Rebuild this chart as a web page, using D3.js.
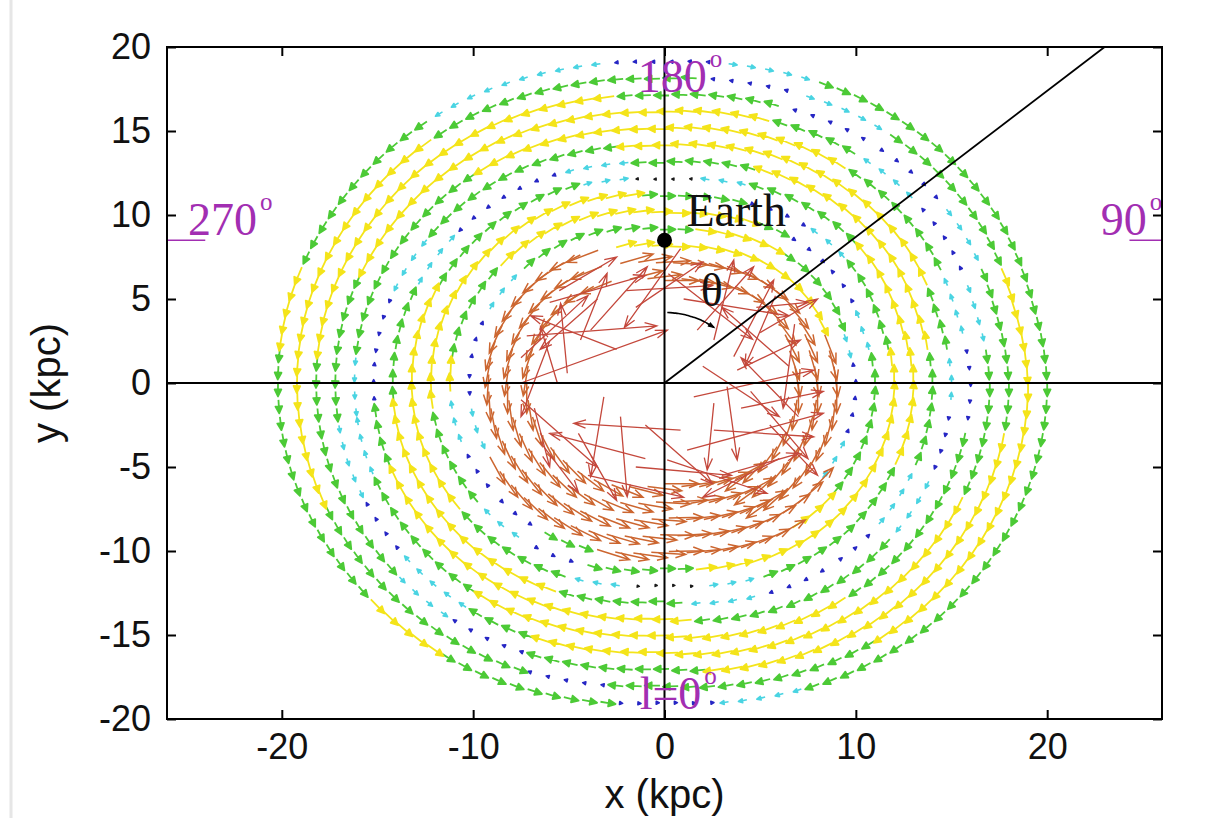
<!DOCTYPE html>
<html>
<head>
<meta charset="utf-8">
<script src="https://cdnjs.cloudflare.com/ajax/libs/d3/7.8.5/d3.min.js"></script>
<style>
  body { margin: 0; background: #fff; }
  svg { display: block; }
</style>
</head>
<body>
<svg id="chart" width="1205" height="818"></svg>
<script>
// ---- axes ----
const xDomain = [-26, 26];
const yDomain = [-20, 20];
const xTicks = [-20, -10, 0, 10, 20];
const yTicks = [20, 15, 10, 5, 0, -5, -10, -15, -20];

// ---- sampled velocity field on rings (kpc) ----
const rings = [7, 8, 9, 10, 11, 12, 13, 14, 15, 16, 17, 18, 19, 20];
const arrowSpacing = 1.0; // kpc along each ring
// ring shape correction (kpc) for each 15 deg direction, counter-clockwise from +x
const ringOffset = [0, -0.2, 0, 0, -0.2, -0.6, -0.9, -0.6, -0.2, 0, 0.1, 0.2,
                    0.2, 0.2, 0.1, 0, -0.2, -0.6, -1.0, -0.6, -0.2, 0, 0, 0];
// speed class per ring and 15 deg sector (upper case: counter-clockwise, lower case: clockwise)
// R brown, Y yellow, G green, C cyan, B blue, K black
const ringCodes = {
  20: "gggggcBCCGGYGGGYGGBcgggg",
  19: "yyggcBGGGYYYYYGGGbgggyyy",
  18: "ggcbBGGYYYYYGGGCbggyyyyy",
  17: "gcBCGYYYYYYGGCbcgyyyyyyg",
  16: "bCGGYYYYYGGGCcggyyyyyggg",
  15: "CGYYYYYGGGCBbgyyyyygggcb",
  14: "GYYYYGGCBBcggyyyyggcbBCG",
  13: "YYYGGCKcgggyyyyggcKCGGGY",
  12: "YGGCbggyyyyyyggcBGGYYYYY",
  11: "GCBbgyyyyyggycbBGRRRRYGG",
  10: "BcggyyggggcbBCRRRRRRRRCB",
  9:  "rryyyyyyRRRRRRRRRRRRRrrr",
  8:  "rrrrrrrrRRRRRRRRRRRRRrrr",
  7:  "rrrrrrrrRRRRRRRRRRRRRrrr"
};
const classSpeed = { K: 0.08, B: 0.2, C: 0.45, G: 0.8, Y: 1.1, R: 1.8 };
const classColor = { K: "#1a1a1a", B: "#2626c4", C: "#4ad4e2", G: "#4cca36", Y: "#f4e41a", R: "#cc6630" };
const classHead = { K: 2, B: 3, C: 4, G: 7, Y: 7 };

// long inner vectors: [x0, y0, x1, y1] in kpc
const innerVectors = [
  [-3.86, 3.15, -0.9, 6.92], [-4.39, 2.56, -3.0, 6.53], [-5.08, 0.58, -5.43, 4.74],
  [2.58, 2.56, 3.62, 7.32], [1.71, 3.15, 4.66, 6.92], [3.62, 1.57, 5.71, 6.13],
  [3.8, 0.77, 7.1, 2.56], [1.53, -0.82, 7.8, 0.77], [1.18, -3.99, 8.3, -1.8],
  [2.58, -2.8, 7.8, -3.2], [0.14, -4.58, 5.36, -6.57], [3.27, -0.22, 3.8, -4.58],
  [2.58, -1.2, 2.23, -5.18], [-3.17, -0.82, -3.86, -5.58], [-2.3, -2.0, -1.95, -6.77],
  [0.84, -2.8, -4.74, -2.4], [-5.6, 0.0, -6.48, 3.35], [-7.2, 2.8, -0.4, 3.4],
  [-6.0, 4.8, -1.0, 6.4], [-7.5, 1.5, -4.0, 5.2], [5.8, 5.2, 4.2, 1.0],
  [6.8, 3.5, 6.2, -1.5], [6.0, -4.5, 2.0, -6.8], [-1.0, -4.5, -6.0, -3.0],
  [-6.5, -3.5, -4.5, -6.5], [-2.0, 5.5, 2.5, 5.8], [4.5, -0.5, 7.5, -4.5],
  [-4.0, -5.5, 1.0, -6.8], [-6.8, -1.5, -6.0, -5.0],
  [-7.5, 0.0, 0.15, 3.15], [0.84, 8.0, -2.1, 3.3], [0.2, 6.5, 4.6, 2.6],
  [-1.5, 4.5, 2.0, 7.2], [4.8, 4.5, 7.5, 4.8], [5.0, 3.0, 8.0, 5.0],
  [4.0, -1.5, 8.3, -0.5], [5.5, -2.5, 8.0, -5.5], [3.0, -5.5, 7.0, -4.2],
  [-1.5, -5.0, 3.5, -5.5], [-4.5, -3.0, -2.5, -7.0], [-7.5, -1.0, -3.5, -5.0],
  [-6.0, 2.5, -7.5, -2.0], [-3.5, 5.0, -6.5, 2.0], [-5.5, 5.5, -2.5, 7.5],
  [1.0, 5.0, 6.5, 4.0], [2.0, 1.0, 6.0, -2.0], [-2.5, 2.0, -7.0, 4.0],
  [-1.0, -2.5, 2.5, -6.0], [6.5, 1.0, 3.0, 4.5], [7.0, -2.0, 4.0, 1.5]
];
const innerColor = "#c4483c";

// ---- reference lines and labels ----
const earth = { x: 0, y: 8.5, label: "Earth" };
const thetaRay = [[0, 0], [23, 20]];
const thetaArc = { r: 4.2, from: 88, to: 52 };
const longitudeLabels = [
  { text: "180", x: -1.4, y: 17.3 },
  { text: "270", x: -24.9, y: 8.8 },
  { text: "90",  x: 22.8,  y: 8.8 },
  { text: "l=0", x: -1.3, y: -19.4 }
];
const earthMarks = [[-26, -24], [24.3, 26]];

const svg = d3.select("#chart");
const x = d3.scaleLinear().domain(xDomain).range([167, 1162]);
const y = d3.scaleLinear().domain(yDomain).range([719, 47]);

// faint page edge
svg.append("line").attr("x1", 11).attr("x2", 11).attr("y1", 0).attr("y2", 818)
  .attr("stroke", "#e6e6e6").attr("stroke-width", 3);

function offsetAt(phi) {
  const s = (((phi % 360) + 360) % 360) / 15;
  const i = Math.floor(s), f = s - i;
  const a = ringOffset[i % 24], b = ringOffset[(i + 1) % 24];
  return a + (b - a) * f;
}

const field = [];
rings.forEach(rho => {
  const codes = ringCodes[rho];
  const n = Math.round(2 * Math.PI * rho / arrowSpacing);
  for (let j = 0; j < n; j++) {
    const phi = 360 * j / n;
    const code = codes[Math.round(phi / 15) % 24];
    const cls = code.toUpperCase();
    const sign = code === cls ? 1 : -1;
    const rad = phi * Math.PI / 180;
    const r = rho + offsetAt(phi);
    const x0 = r * Math.cos(rad), y0 = r * Math.sin(rad);
    const s = classSpeed[cls] * sign;
    field.push({ x0, y0, x1: x0 - Math.sin(rad) * s, y1: y0 + Math.cos(rad) * s, cls, rho });
  }
});

function arrowPath(d, headLen, half, filled) {
  const X0 = x(d.x0), Y0 = y(d.y0), X1 = x(d.x1), Y1 = y(d.y1);
  const dx = X1 - X0, dy = Y1 - Y0, L = Math.hypot(dx, dy) || 1;
  const ux = dx / L, uy = dy / L;
  const h = Math.min(headLen, Math.max(L, 2));
  const w = h * Math.tan(half);
  const bx = X1 - ux * h, by = Y1 - uy * h;
  const ax = bx - uy * w, ay = by + ux * w;
  const cx = bx + uy * w, cy = by - ux * w;
  if (filled) {
    return `M${X0},${Y0}L${bx},${by}M${X1},${Y1}L${ax},${ay}L${cx},${cy}Z`;
  }
  return `M${X0},${Y0}L${X1},${Y1}M${ax},${ay}L${X1},${Y1}L${cx},${cy}`;
}

const gField = svg.append("g");
const order = ["K", "B", "C", "G", "Y", "R"];
field.sort((a, b) => order.indexOf(a.cls) - order.indexOf(b.cls));
gField.selectAll("path.v").data(field.filter(d => d.cls !== "R")).join("path")
  .attr("class", "v")
  .attr("d", d => arrowPath(d, classHead[d.cls], 0.45, true))
  .attr("fill", d => classColor[d.cls])
  .attr("stroke", d => classColor[d.cls])
  .attr("stroke-width", d => (d.cls === "G" || d.cls === "Y") ? 1.8 : 1.6)
  .attr("stroke-linejoin", "round");

gField.selectAll("path.r").data(field.filter(d => d.cls === "R")).join("path")
  .attr("class", "r")
  .attr("d", d => arrowPath(d, 10, 0.38, false))
  .attr("fill", "none")
  .attr("stroke", classColor.R)
  .attr("stroke-width", 1.5);

gField.selectAll("path.inner").data(innerVectors.map(v => ({ x0: v[0], y0: v[1], x1: v[2], y1: v[3] })))
  .join("path")
  .attr("class", "inner")
  .attr("d", d => arrowPath(d, 12, 0.33, false))
  .attr("fill", "none")
  .attr("stroke", innerColor)
  .attr("stroke-width", 1.3);

// coordinate axes through the Galactic centre
svg.append("line").attr("x1", x(xDomain[0])).attr("x2", x(xDomain[1]))
  .attr("y1", y(0)).attr("y2", y(0)).attr("stroke", "#000").attr("stroke-width", 2);
svg.append("line").attr("x1", x(0)).attr("x2", x(0))
  .attr("y1", y(yDomain[0])).attr("y2", y(yDomain[1])).attr("stroke", "#000").attr("stroke-width", 2);
svg.append("line").attr("x1", x(thetaRay[0][0])).attr("y1", y(thetaRay[0][1]))
  .attr("x2", x(thetaRay[1][0])).attr("y2", y(thetaRay[1][1]))
  .attr("stroke", "#000").attr("stroke-width", 1.8);

// theta arc with arrow
const arcPts = d3.range(thetaArc.from, thetaArc.to - 0.1, -2).map(a => [
  thetaArc.r * Math.cos(a * Math.PI / 180), thetaArc.r * Math.sin(a * Math.PI / 180)]);
svg.append("path")
  .attr("d", d3.line().x(p => x(p[0])).y(p => y(p[1])).curve(d3.curveBasis)(arcPts))
  .attr("fill", "none").attr("stroke", "#000").attr("stroke-width", 1.6);
{
  const n = arcPts.length;
  svg.append("path")
    .attr("d", arrowPath({ x0: arcPts[n - 3][0], y0: arcPts[n - 3][1], x1: arcPts[n - 1][0], y1: arcPts[n - 1][1] }, 11, 0.33, true))
    .attr("fill", "#000").attr("stroke", "#000").attr("stroke-width", 1.2);
}

// Earth
svg.append("circle").attr("cx", x(earth.x)).attr("cy", y(earth.y)).attr("r", 7.5).attr("fill", "#000");
svg.append("text").attr("x", x(earth.x) + 22).attr("y", y(earth.y) - 14)
  .attr("font-family", "Liberation Serif, serif").attr("font-size", 46).attr("fill", "#111")
  .text(earth.label);
svg.append("text").attr("x", x(1.9)).attr("y", y(4.6))
  .attr("font-family", "Liberation Serif, serif").attr("font-size", 46).attr("fill", "#111")
  .text("\u03b8");

// longitude labels
const magenta = "#a22eb2";
longitudeLabels.forEach(l => {
  const t = svg.append("text").attr("x", x(l.x)).attr("y", y(l.y))
    .attr("font-family", "Liberation Serif, serif").attr("font-size", 46).attr("fill", magenta);
  t.append("tspan").text(l.text);
  t.append("tspan").attr("dy", -25).attr("dx", 3).attr("font-size", 25).text("o");
});
earthMarks.forEach(m => {
  svg.append("line").attr("x1", x(m[0])).attr("x2", x(m[1]))
    .attr("y1", y(earth.y)).attr("y2", y(earth.y)).attr("stroke", magenta).attr("stroke-width", 1.6);
});

// frame and ticks
const tickFont = "Liberation Sans, Arial, sans-serif";
const fmt = d => String(d);
const axB = svg.append("g").attr("transform", `translate(0,${y(yDomain[0])})`)
  .call(d3.axisBottom(x).tickValues(xTicks).tickFormat(fmt).tickSizeInner(-9).tickSizeOuter(0).tickPadding(14));
const axT = svg.append("g").attr("transform", `translate(0,${y(yDomain[1])})`)
  .call(d3.axisTop(x).tickValues(xTicks).tickSizeInner(-9).tickSizeOuter(0).tickFormat(""));
const axL = svg.append("g").attr("transform", `translate(${x(xDomain[0])},0)`)
  .call(d3.axisLeft(y).tickValues(yTicks).tickFormat(fmt).tickSizeInner(-9).tickSizeOuter(0).tickPadding(16));
const axR = svg.append("g").attr("transform", `translate(${x(xDomain[1])},0)`)
  .call(d3.axisRight(y).tickValues(yTicks).tickSizeInner(-9).tickSizeOuter(0).tickFormat(""));
[axB, axT, axL, axR].forEach(a => {
  a.select(".domain").remove();
  a.selectAll(".tick line").attr("stroke", "#000").attr("stroke-width", 2);
  a.selectAll("text").attr("font-family", tickFont).attr("font-size", 36).attr("fill", "#111");
});
svg.append("rect").attr("x", x(xDomain[0])).attr("y", y(yDomain[1]))
  .attr("width", x(xDomain[1]) - x(xDomain[0])).attr("height", y(yDomain[0]) - y(yDomain[1]))
  .attr("fill", "none").attr("stroke", "#000").attr("stroke-width", 2);

svg.append("text").attr("x", x(0)).attr("y", 808).attr("text-anchor", "middle")
  .attr("font-family", tickFont).attr("font-size", 40).attr("fill", "#111").text("x (kpc)");
svg.append("text").attr("transform", `translate(60,${y(0)}) rotate(-90)`).attr("text-anchor", "middle")
  .attr("font-family", tickFont).attr("font-size", 40).attr("fill", "#111").text("y (kpc)");
</script>
</body>
</html>
